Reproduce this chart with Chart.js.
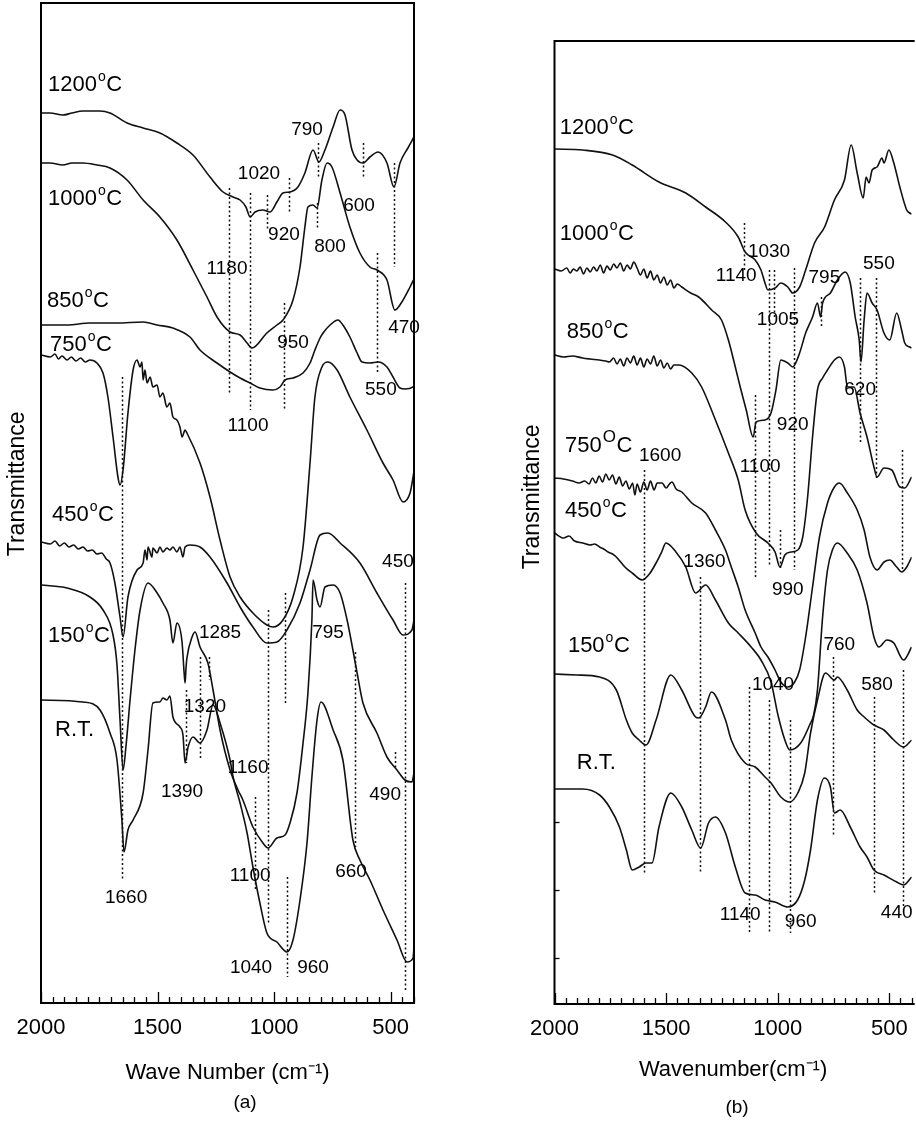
<!DOCTYPE html>
<html><head><meta charset="utf-8">
<script src="https://cdn.jsdelivr.net/npm/chart.js@4.4.1/dist/chart.umd.min.js"></script>
<style>
html,body{margin:0;padding:0;background:#fff;overflow:hidden;width:916px;height:1126px;position:relative;}
#ca{position:absolute;left:0;top:0;}
#cb{position:absolute;left:458px;top:0;}
</style></head><body>
<canvas id="ca" width="458" height="1126"></canvas>
<canvas id="cb" width="462" height="1126"></canvas>
<script>
// ---------- Panel (a) spectra: [wavenumber cm-1, transmittance (arb.)] ----------
const a1200 = [[2000,890],[1961,890],[1906,888],[1867,890],[1820,892],[1747,892],[1704,890],[1631,880],[1562,875],[1490,870],[1417,860],[1348,848],[1275,826],[1219,811],[1176,806],[1146,803],[1121,796],[1103,786],[1082,791],[1048,793],[1018,791],[988,801],[962,810],[932,811],[898,816],[868,830],[833,853],[808,841],[782,853],[747,876],[717,893],[696,888],[666,853],[644,843],[619,840],[589,846],[554,851],[516,840],[486,816],[460,840],[426,855],[400,866]];
const a1000 = [[2000,840],[1961,840],[1906,838],[1867,840],[1820,840],[1760,838],[1704,835],[1631,823],[1562,803],[1490,786],[1417,763],[1348,733],[1288,706],[1245,686],[1189,671],[1146,668],[1116,660],[1095,655],[1031,670],[988,678],[962,683],[919,703],[889,736],[868,776],[855,796],[833,798],[816,795],[795,823],[773,840],[752,836],[717,810],[675,776],[632,750],[589,736],[559,733],[516,723],[482,693],[452,701],[417,716],[400,724]];
const a850 = [[2000,678],[1888,678],[1790,680],[1674,680],[1562,681],[1502,678],[1434,675],[1361,666],[1318,653],[1245,640],[1189,631],[1146,625],[1103,620],[1061,615],[1005,613],[975,616],[953,623],[919,625],[876,630],[846,640],[825,653],[803,665],[790,670],[760,678],[726,683],[705,678],[675,666],[644,650],[623,641],[589,640],[554,641],[516,636],[490,626],[460,615],[439,614],[404,616],[400,617]];
const a750 = [[2000,648],[1960,646],[1940,649],[1925,644],[1910,647],[1888,643],[1870,646],[1850,642],[1830,645],[1810,641],[1790,643],[1760,640],[1734,630],[1713,606],[1691,566],[1670,526],[1661,518],[1648,533],[1627,590],[1605,633],[1588,643],[1575,636],[1567,641],[1562,623],[1554,633],[1545,620],[1532,626],[1520,616],[1502,618],[1490,606],[1477,610],[1460,596],[1447,600],[1434,586],[1417,583],[1404,576],[1395,566],[1382,573],[1374,570],[1318,540],[1275,506],[1232,463],[1189,426],[1146,406],[1091,390],[1031,378],[1005,376],[962,383],[919,406],[876,456],[846,540],[825,606],[795,636],[769,641],[730,633],[675,606],[602,573],[533,540],[490,523],[447,501],[417,510],[404,526],[400,532]];
const a450 = [[2000,461],[1960,459],[1940,462],[1920,457],[1900,460],[1880,456],[1860,458],[1840,454],[1820,456],[1800,452],[1780,453],[1760,449],[1740,450],[1720,444],[1704,440],[1683,420],[1661,386],[1648,366],[1627,406],[1588,433],[1562,440],[1554,453],[1545,443],[1541,456],[1524,446],[1520,455],[1502,450],[1490,456],[1477,451],[1460,455],[1447,453],[1434,456],[1417,451],[1404,456],[1391,446],[1382,456],[1361,458],[1318,456],[1275,446],[1202,420],[1146,396],[1091,376],[1031,360],[988,361],[945,373],[889,400],[846,433],[803,468],[769,470],[717,460],[632,440],[559,410],[490,383],[447,368],[409,373],[400,383]];
const a150 = [[2000,418],[1888,415],[1790,406],[1734,393],[1691,368],[1674,338],[1661,283],[1648,233],[1635,258],[1618,303],[1597,353],[1575,393],[1541,420],[1502,410],[1477,400],[1447,383],[1434,360],[1417,380],[1395,361],[1386,330],[1382,320],[1378,335],[1374,345],[1352,366],[1339,371],[1318,356],[1284,340],[1262,313],[1232,273],[1189,233],[1155,213],[1134,203],[1091,176],[1048,160],[1026,155],[988,165],[953,168],[932,180],[902,210],[876,260],[855,310],[838,383],[833,423],[816,403],[803,396],[782,416],[747,418],[717,410],[687,383],[662,353],[644,330],[619,300],[559,270],[516,246],[473,233],[439,223],[409,221],[400,230]];
const aRT = [[2000,303],[1820,301],[1747,293],[1704,270],[1674,243],[1653,183],[1644,151],[1627,173],[1605,183],[1562,210],[1541,253],[1520,300],[1490,301],[1477,305],[1460,303],[1447,307],[1434,286],[1404,276],[1391,268],[1382,240],[1369,256],[1348,266],[1318,260],[1288,273],[1262,298],[1232,280],[1189,243],[1176,226],[1146,200],[1116,170],[1091,136],[1061,100],[1031,70],[988,61],[945,51],[919,63],[889,103],[859,160],[838,226],[816,283],[799,301],[747,273],[705,243],[662,163],[632,143],[589,123],[533,93],[473,63],[430,41],[404,45],[400,56]];

// peak marker lines (a): [wavenumber, upper T, lower T]
const aPeakLines = [[1194,815,610],[1103,810,593],[1031,808,773],[936,825,791],[812,860,825],[816,800,773],[619,860,826],[486,840,736],[958,700,593],[559,750,631],[1653,626,123],[1026,393,78],[953,410,300],[945,126,26],[439,420,13],[1318,346,243],[1378,313,240],[1279,346,323],[1082,206,113],[653,351,156],[482,251,233]];
// peak labels (a): [text, wavenumber, T]
const aPeakLabels = [['790',859,873],['1020',1065,829],['920',958,768],['600',636,797],['800',760,756],['1180',1202,734],['950',919,660],['470',443,675],['1100',1112,577],['550',542,613],['450',469,441],['1285',1232,370],['795',769,370],['1320',1297,296],['1160',1112,235],['1390',1395,211],['490',524,208],['1100',1103,127],['660',670,131],['1660',1635,105],['1040',1099,35],['960',833,35]];
// curve names (a): [text, wavenumber, T]
const aCurveLabels = [['1200°C',1970,918],['1000°C',1970,804],['850°C',1974,702],['750°C',1961,658],['450°C',1953,488],['150°C',1970,367],['R.T.',1940,273]];

// ---------- Panel (b) spectra ----------
const b1200 = [[2000,855],[1874,854],[1740,849],[1652,839],[1532,822],[1412,811],[1323,797],[1234,782],[1177,767],[1146,752],[1101,744],[1075,734],[1057,721],[1044,714],[1012,716],[986,721],[955,717],[933,711],[902,717],[875,734],[835,761],[790,777],[746,804],[701,824],[671,859],[644,831],[617,806],[604,827],[591,821],[577,834],[555,837],[533,846],[524,841],[502,854],[480,841],[453,817],[422,794],[409,791],[400,790]];
const b1000 = [[2000,735],[1970,733],[1945,736],[1930,731],[1915,735],[1900,733],[1885,737],[1870,730],[1855,736],[1840,732],[1825,737],[1810,733],[1795,739],[1780,731],[1765,738],[1750,734],[1735,740],[1720,736],[1705,741],[1690,733],[1675,739],[1660,735],[1645,742],[1630,736],[1615,729],[1600,735],[1585,726],[1570,733],[1555,724],[1540,729],[1525,721],[1510,727],[1495,719],[1480,724],[1465,716],[1450,720],[1430,717],[1390,711],[1354,707],[1296,694],[1252,684],[1221,664],[1190,637],[1168,617],[1141,594],[1110,567],[1097,582],[1057,584],[1030,591],[1008,614],[986,644],[955,641],[933,637],[902,651],[875,671],[844,687],[822,701],[808,687],[799,701],[764,711],[733,724],[698,732],[675,721],[653,687],[635,664],[627,642],[613,684],[600,711],[577,701],[555,694],[524,671],[498,664],[467,691],[445,674],[431,661],[409,657],[400,656]];
const b850 = [[2000,649],[1960,647],[1920,648],[1874,646],[1840,645],[1800,644],[1770,643],[1754,642],[1735,646],[1720,640],[1705,645],[1690,638],[1675,646],[1660,641],[1645,648],[1630,639],[1615,646],[1600,637],[1585,645],[1570,640],[1555,648],[1540,638],[1525,644],[1510,636],[1495,641],[1480,635],[1465,639],[1443,639],[1385,631],[1341,617],[1279,584],[1221,551],[1177,524],[1146,494],[1097,471],[1044,461],[1012,452],[990,437],[968,449],[941,452],[910,454],[888,467],[866,507],[844,567],[822,614],[799,626],[777,634],[746,644],[724,647],[701,637],[688,617],[658,617],[631,591],[600,567],[569,537],[555,527],[524,536],[489,534],[453,517],[431,516],[400,527]];
const b750 = [[2000,526],[1960,525],[1920,523],[1890,521],[1865,523],[1845,520],[1830,526],[1815,521],[1800,528],[1785,522],[1770,530],[1755,524],[1740,529],[1725,520],[1710,527],[1695,518],[1680,523],[1665,515],[1650,521],[1640,509],[1630,520],[1615,512],[1600,522],[1585,514],[1570,523],[1554,514],[1540,521],[1518,521],[1500,516],[1485,520],[1474,522],[1455,515],[1430,512],[1385,501],[1323,491],[1279,474],[1234,454],[1208,437],[1177,417],[1146,394],[1101,371],[1075,357],[1044,347],[1012,334],[986,322],[955,317],[924,322],[902,334],[875,367],[844,417],[813,467],[777,501],[746,517],[724,521],[688,511],[644,494],[613,474],[587,447],[555,434],[524,442],[498,444],[467,437],[445,432],[422,437],[400,447]];
const b450 = [[2000,471],[1960,466],[1935,468],[1910,463],[1874,461],[1840,459],[1820,460],[1798,457],[1780,455],[1760,452],[1740,450],[1723,447],[1700,441],[1680,436],[1652,431],[1607,424],[1575,430],[1545,441],[1520,452],[1501,461],[1456,452],[1412,437],[1368,411],[1323,419],[1279,404],[1221,381],[1177,371],[1119,357],[1075,344],[1030,322],[999,289],[968,264],[946,254],[897,261],[857,279],[839,289],[822,314],[800,384],[777,434],[755,454],[733,461],[689,451],[644,434],[600,401],[569,367],[547,357],[511,364],[480,361],[436,344],[400,357]];
const b150 = [[2000,330],[1900,329],[1798,327],[1723,314],[1678,284],[1652,271],[1621,264],[1590,259],[1545,284],[1479,329],[1430,314],[1368,287],[1354,286],[1323,297],[1297,312],[1234,284],[1208,264],[1146,241],[1101,237],[1057,227],[1030,221],[986,207],[946,202],[910,211],[879,231],[853,271],[822,304],[786,331],[746,324],[733,327],[689,314],[644,294],[613,287],[569,279],[524,274],[480,264],[436,257],[400,264]];
const bRT = [[2000,215],[1874,215],[1798,209],[1754,197],[1709,177],[1678,154],[1652,134],[1621,137],[1590,141],[1563,141],[1532,177],[1479,211],[1430,197],[1385,174],[1345,156],[1310,181],[1279,187],[1234,171],[1190,137],[1146,111],[1101,109],[1057,104],[1013,102],[955,97],[911,104],[879,124],[853,154],[822,204],[791,226],[764,217],[746,191],[720,194],[675,177],[631,157],[600,147],[569,134],[524,129],[467,122],[436,119],[400,127]];

const bPeakLines = [[1150,781,734],[1039,734,437],[1017,734,687],[928,736,434],[808,707,676],[631,726,561],[560,726,524],[1101,609,427],[990,474,434],[444,554,434],[1598,534,131],[1350,427,132],[1128,317,71],[1039,304,72],[751,347,167],[569,307,111],[440,334,97],[946,284,71]];
const bPeakLabels = [['1030',1039,752],['1140',1186,728],['795',791,726],['550',547,740],['1005',999,684],['620',631,614],['920',933,579],['1600',1527,548],['1100',1079,537],['1360',1328,442],['990',955,414],['760',724,359],['1040',1021,319],['580',555,319],['1140',1168,89],['960',897,82],['440',467,91]];
const bCurveLabels = [['1200°C',1976,876],['1000°C',1976,770],['850°C',1945,672],['750°C',1953,558],['450°C',1953,493],['150°C',1940,358],['R.T.',1900,241]];
const bYTicks = [46,114,182];

const xTickLabels = [2000,1500,1000,500];
const FONT = '"Liberation Sans", Arial, Helvetica, sans-serif';

function drawTemp(ctx, txt, x, y, bigSup) {
  ctx.textAlign = 'left'; ctx.textBaseline = 'middle'; ctx.fillStyle = '#000';
  ctx.font = '22px ' + FONT;
  if (txt.indexOf('°') < 0) { ctx.fillText(txt, x, y); return; }
  const parts = txt.split('°');
  ctx.fillText(parts[0], x, y);
  let w = ctx.measureText(parts[0]).width;
  ctx.font = (bigSup ? 17 : 14) + 'px ' + FONT;
  const sup = bigSup ? 'O' : 'o';
  ctx.fillText(sup, x + w + 1, y - (bigSup ? 9 : 8));
  w += ctx.measureText(sup).width + 1.5;
  ctx.font = '22px ' + FONT;
  ctx.fillText(parts[1], x + w, y);
}

function makePlugin(lines, peakLabels, curveLabels, panelTag, tagX, tagY, drawRight, yTicks) {
  return {
    id: 'ann' + panelTag,
    afterDatasetsDraw(chart) {
      const ctx = chart.ctx, xs = chart.scales.x, ys = chart.scales.y, ca = chart.chartArea;
      ctx.save();
      ctx.strokeStyle = '#111'; ctx.lineWidth = 1.5; ctx.setLineDash([2, 2.5]);
      lines.forEach(([w, t, b]) => {
        const x = Math.round(xs.getPixelForValue(w)) + 0.5;
        ctx.beginPath(); ctx.moveTo(x, ys.getPixelForValue(t)); ctx.lineTo(x, ys.getPixelForValue(b)); ctx.stroke();
      });
      ctx.setLineDash([]);
      ctx.strokeStyle = '#000'; ctx.lineWidth = 2;
      ctx.beginPath();
      if (drawRight) { ctx.rect(ca.left, ca.top, ca.right - ca.left, ca.bottom - ca.top); }
      else { ctx.moveTo(ca.right + 3, ca.top); ctx.lineTo(ca.left, ca.top); ctx.lineTo(ca.left, ca.bottom); ctx.lineTo(ca.right + 3, ca.bottom); }
      ctx.stroke();
      ctx.lineWidth = 1.3;
      for (let v = 400; v <= 2000; v += 50) {
        const x = Math.round(xs.getPixelForValue(v)) + 0.5;
        const len = v % 500 === 0 ? 11 : 6;
        ctx.beginPath(); ctx.moveTo(x, ca.bottom); ctx.lineTo(x, ca.bottom - len); ctx.stroke();
      }
      (yTicks || []).forEach(v => {
        const y = Math.round(ys.getPixelForValue(v)) + 0.5;
        ctx.beginPath(); ctx.moveTo(ca.left, y); ctx.lineTo(ca.left + 5, y); ctx.stroke();
      });
      ctx.fillStyle = '#000'; ctx.font = '19px ' + FONT; ctx.textAlign = 'center'; ctx.textBaseline = 'middle';
      peakLabels.forEach(([t, w, v]) => ctx.fillText(t, xs.getPixelForValue(w), ys.getPixelForValue(v)));
      curveLabels.forEach(([t, w, v]) => drawTemp(ctx, t, xs.getPixelForValue(w), ys.getPixelForValue(v), panelTag === 'b' && t === '750°C'));
      ctx.font = '19px ' + FONT; ctx.textAlign = 'center'; ctx.textBaseline = 'middle';
      ctx.fillText('(' + panelTag + ')', tagX, tagY);
      ctx.restore();
    }
  };
}

function buildChart(id, seriesList, cfg) {
  return new Chart(document.getElementById(id), {
    type: 'line',
    data: { datasets: seriesList.map(s => ({ data: s, borderColor: '#111', borderWidth: 1.6, pointRadius: 0, fill: false, cubicInterpolationMode: 'monotone' })) },
    options: {
      responsive: false, animation: false, events: [],
      layout: { padding: cfg.padding },
      plugins: { legend: { display: false }, tooltip: { enabled: false } },
      scales: {
        x: {
          type: 'linear', position: 'bottom', reverse: true, min: 400, max: 2000,
          grid: { display: false, drawTicks: false }, border: { display: false },
          afterBuildTicks: s => { s.ticks = xTickLabels.map(v => ({ value: v })); },
          ticks: { color: '#000', font: { family: FONT, size: 22 }, padding: 12, maxRotation: 0, autoSkip: false,
                   callback: v => String(v) },
          title: { display: true, text: cfg.xTitle, color: '#000', font: { family: FONT, size: 22 }, padding: { top: 0, bottom: cfg.xTitlePad } },
          afterFit: s => { s.height = cfg.xHeight; }
        },
        y: {
          type: 'linear', position: 'left', min: 0, max: cfg.yMax,
          grid: { display: false, drawTicks: false }, border: { display: false },
          ticks: { display: false },
          title: { display: true, text: cfg.yTitle, color: '#000', font: { family: FONT, size: 23 }, padding: { top: cfg.yTitlePad, bottom: 0 } },
          afterFit: s => { s.width = cfg.yWidth; }
        }
      }
    },
    plugins: [cfg.plugin]
  });
}

buildChart('ca', [a1200, a1000, a850, a750, a450, a150, aRT], {
  padding: { left: 0, top: 3, right: 44, bottom: 0 },
  xTitle: 'Wave Number (cm\u207B\u00B9)', xTitlePad: 40, xHeight: 123,
  yTitle: '      Transmittance', yTitlePad: 4, yWidth: 41, yMax: 1000,
  plugin: makePlugin(aPeakLines, aPeakLabels, aCurveLabels, 'a', 245, 1103, true, null)
});
buildChart('cb', [b1200, b1000, b850, b750, b450, b150, bRT], {
  padding: { left: 60, top: 41, right: 5, bottom: 0 },
  xTitle: 'Wavenumber(cm\u207B\u00B9)', xTitlePad: 43, xHeight: 122,
  yTitle: '        Transmittance', yTitlePad: 1, yWidth: 36.5, yMax: 963,
  plugin: makePlugin(bPeakLines, bPeakLabels, bCurveLabels, 'b', 279, 1108, false, bYTicks)
});
</script>
</body></html>
